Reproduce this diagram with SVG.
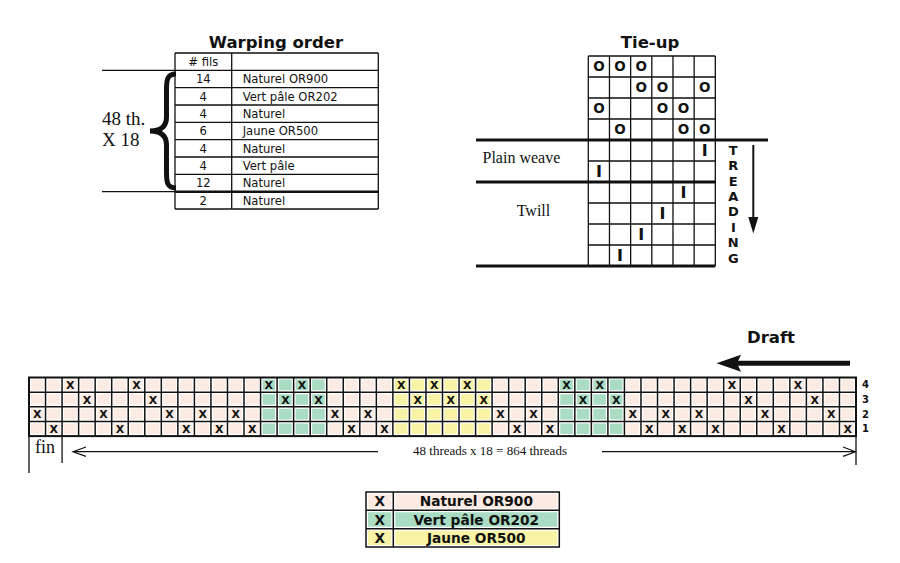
<svg xmlns="http://www.w3.org/2000/svg" width="900" height="563" viewBox="0 0 900 563">
<style>
.sans{font-family:"DejaVu Sans","Liberation Sans",sans-serif;fill:#111}
.serif{font-family:"Liberation Serif","Times New Roman",serif;fill:#111}
.title{font-size:16.5px;font-weight:bold;text-anchor:middle}
.cell{font-size:11.6px}
.mid{text-anchor:middle}
.x{font-family:"DejaVu Sans","Liberation Sans",sans-serif;font-size:11px;font-weight:bold;text-anchor:middle;fill:#111}
.o{font-family:"DejaVu Sans","Liberation Sans",sans-serif;font-size:13.5px;font-weight:bold;text-anchor:middle;fill:#111}
.i{font-family:"DejaVu Sans","Liberation Sans",sans-serif;font-size:16px;font-weight:bold;text-anchor:middle;fill:#111}
.tr{font-family:"DejaVu Sans","Liberation Sans",sans-serif;font-size:13px;font-weight:bold;text-anchor:middle;fill:#111}
.sh{font-family:"DejaVu Sans","Liberation Sans",sans-serif;font-size:10px;font-weight:bold;text-anchor:middle;fill:#111}
.leg{font-family:"DejaVu Sans","Liberation Sans",sans-serif;font-size:13.7px;font-weight:bold;text-anchor:middle;fill:#111}
.thin{stroke:#111;stroke-width:1.3;fill:none}
.thick{stroke:#111;stroke-width:3;fill:none}
.wl{stroke:#fff;stroke-width:4;fill:none}
.bl{stroke:#111;stroke-width:1.5;fill:none}
.ar{stroke:#111;stroke-width:1.2;fill:none}
.nat{fill:#fbebe3}
.grn{fill:#a9dcc3}
.yel{fill:#f8f3a5}
</style>
<rect width="900" height="563" fill="#fff"/>

<g id="warping-order">
<text class="sans title" x="276" y="48">Warping order</text>
<path class="thin" d="M175,53H378.3M175,70.33H378.3M175,87.67H378.3M175,105H378.3M175,122.33H378.3M175,139.67H378.3M175,157H378.3M175,174.33H378.3M175,209H378.3M175,53V209M231.7,53V209M378.3,53V209M102,70.33H175M102,191.67H175"/>
<path d="M175,191.67H378.3" stroke="#111" stroke-width="2.5"/>
<path d="M176,74 C167,74 166.5,80 166.5,90 L166.5,117 C166.5,126 161,131 150,131 C161,131 166.5,136 166.5,145 L166.5,172 C166.5,182 167,188 176,188" fill="none" stroke="#111" stroke-width="5"/>
<text class="serif" x="102" y="124.7" font-size="19">48 th.</text>
<text class="serif" x="102" y="146.3" font-size="19">X 18</text>
<text class="sans cell mid" x="203.3" y="66">#&#160;fils</text>
<text class="sans cell mid" x="203.3" y="83.3">14</text><text class="sans cell" x="242.7" y="83.3">Naturel OR900</text>
<text class="sans cell mid" x="203.3" y="100.6">4</text><text class="sans cell" x="242.7" y="100.6">Vert pâle OR202</text>
<text class="sans cell mid" x="203.3" y="118">4</text><text class="sans cell" x="242.7" y="118">Naturel</text>
<text class="sans cell mid" x="203.3" y="135.3">6</text><text class="sans cell" x="242.7" y="135.3">Jaune OR500</text>
<text class="sans cell mid" x="203.3" y="152.6">4</text><text class="sans cell" x="242.7" y="152.6">Naturel</text>
<text class="sans cell mid" x="203.3" y="170">4</text><text class="sans cell" x="242.7" y="170">Vert pâle</text>
<text class="sans cell mid" x="203.3" y="187.3">12</text><text class="sans cell" x="242.7" y="187.3">Naturel</text>
<text class="sans cell mid" x="203.3" y="204.6">2</text><text class="sans cell" x="242.7" y="204.6">Naturel</text>
</g>

<g id="tie-up">
<text class="sans title" x="650" y="48">Tie-up</text>
<path class="thin" d="M588.3,56V266M609.47,56V266M630.64,56V266M651.81,56V266M672.98,56V266M694.15,56V266M715.32,56V266M588.3,56H715.32M588.3,77H715.32M588.3,98H715.32M588.3,119H715.32M588.3,161H715.32M588.3,203H715.32M588.3,224H715.32M588.3,245H715.32"/>
<path class="thick" d="M476,140H768M476,182H715.32M476,266H715.32"/>
<text class="o" x="598.9" y="71.4">O</text><text class="o" x="620.1" y="71.4">O</text><text class="o" x="641.2" y="71.4">O</text>
<text class="o" x="641.2" y="92.4">O</text><text class="o" x="662.4" y="92.4">O</text><text class="o" x="704.7" y="92.4">O</text>
<text class="o" x="598.9" y="113.4">O</text><text class="o" x="662.4" y="113.4">O</text><text class="o" x="683.6" y="113.4">O</text>
<text class="o" x="620.1" y="134.4">O</text><text class="o" x="683.6" y="134.4">O</text><text class="o" x="704.7" y="134.4">O</text>
<text class="i" x="704.7" y="156.3">I</text>
<text class="i" x="598.9" y="177.3">I</text>
<text class="i" x="683.6" y="198.3">I</text>
<text class="i" x="662.4" y="219.3">I</text>
<text class="i" x="641.2" y="240.3">I</text>
<text class="i" x="620.1" y="261.3">I</text>
<text class="serif" x="482.5" y="162.5" font-size="16">Plain weave</text>
<text class="serif" x="516.7" y="216" font-size="16">Twill</text>
<text class="tr" x="733.3" y="154.7">T</text>
<text class="tr" x="733.3" y="170.1">R</text>
<text class="tr" x="733.3" y="185.5">E</text>
<text class="tr" x="733.3" y="200.9">A</text>
<text class="tr" x="733.3" y="216.3">D</text>
<text class="tr" x="733.3" y="231.7">I</text>
<text class="tr" x="733.3" y="247.1">N</text>
<text class="tr" x="733.3" y="262.5">G</text>
</g>

<g id="draft">
<text class="sans title" x="771" y="343">Draft</text>
<rect class="nat" x="29" y="377.5" width="827" height="58.6"/>
<rect class="grn" x="260.56" y="377.5" width="66.16" height="58.6"/>
<rect class="yel" x="392.88" y="377.5" width="99.24" height="58.6"/>
<rect class="grn" x="558.28" y="377.5" width="66.16" height="58.6"/>
<g id="draft-grid">
<path class="wl" d="M45.54,377.5V436.1M62.08,377.5V436.1M78.62,377.5V436.1M95.16,377.5V436.1M111.7,377.5V436.1M128.24,377.5V436.1M144.78,377.5V436.1M161.32,377.5V436.1M177.86,377.5V436.1M194.4,377.5V436.1M210.94,377.5V436.1M227.48,377.5V436.1M244.02,377.5V436.1M260.56,377.5V436.1M277.1,377.5V436.1M293.64,377.5V436.1M310.18,377.5V436.1M326.72,377.5V436.1M343.26,377.5V436.1M359.8,377.5V436.1M376.34,377.5V436.1M392.88,377.5V436.1M409.42,377.5V436.1M425.96,377.5V436.1M442.5,377.5V436.1M459.04,377.5V436.1M475.58,377.5V436.1M492.12,377.5V436.1M508.66,377.5V436.1M525.2,377.5V436.1M541.74,377.5V436.1M558.28,377.5V436.1M574.82,377.5V436.1M591.36,377.5V436.1M607.9,377.5V436.1M624.44,377.5V436.1M640.98,377.5V436.1M657.52,377.5V436.1M674.06,377.5V436.1M690.6,377.5V436.1M707.14,377.5V436.1M723.68,377.5V436.1M740.22,377.5V436.1M756.76,377.5V436.1M773.3,377.5V436.1M789.84,377.5V436.1M806.38,377.5V436.1M822.92,377.5V436.1M839.46,377.5V436.1M29,392.15H856M29,406.8H856M29,421.45H856M29,377.5H856M29,436.1H856M29,377.5V436.1M856,377.5V436.1"/>
<path class="bl" d="M45.54,377.5V436.1M62.08,377.5V436.1M78.62,377.5V436.1M95.16,377.5V436.1M111.7,377.5V436.1M128.24,377.5V436.1M144.78,377.5V436.1M161.32,377.5V436.1M177.86,377.5V436.1M194.4,377.5V436.1M210.94,377.5V436.1M227.48,377.5V436.1M244.02,377.5V436.1M260.56,377.5V436.1M277.1,377.5V436.1M293.64,377.5V436.1M310.18,377.5V436.1M326.72,377.5V436.1M343.26,377.5V436.1M359.8,377.5V436.1M376.34,377.5V436.1M392.88,377.5V436.1M409.42,377.5V436.1M425.96,377.5V436.1M442.5,377.5V436.1M459.04,377.5V436.1M475.58,377.5V436.1M492.12,377.5V436.1M508.66,377.5V436.1M525.2,377.5V436.1M541.74,377.5V436.1M558.28,377.5V436.1M574.82,377.5V436.1M591.36,377.5V436.1M607.9,377.5V436.1M624.44,377.5V436.1M640.98,377.5V436.1M657.52,377.5V436.1M674.06,377.5V436.1M690.6,377.5V436.1M707.14,377.5V436.1M723.68,377.5V436.1M740.22,377.5V436.1M756.76,377.5V436.1M773.3,377.5V436.1M789.84,377.5V436.1M806.38,377.5V436.1M822.92,377.5V436.1M839.46,377.5V436.1M29,392.15H856M29,406.8H856M29,421.45H856"/>
<rect x="29" y="377.5" width="827" height="58.6" fill="none" stroke="#111" stroke-width="2"/>
</g>
<g id="draft-x">
<text class="x" x="70.35" y="388.8">X</text><text class="x" x="136.51" y="388.8">X</text><text class="x" x="268.83" y="388.8">X</text><text class="x" x="301.91" y="388.8">X</text><text class="x" x="401.15" y="388.8">X</text><text class="x" x="434.23" y="388.8">X</text><text class="x" x="467.31" y="388.8">X</text><text class="x" x="566.55" y="388.8">X</text><text class="x" x="599.63" y="388.8">X</text><text class="x" x="731.95" y="388.8">X</text><text class="x" x="798.11" y="388.8">X</text>
<text class="x" x="86.89" y="403.5">X</text><text class="x" x="153.05" y="403.5">X</text><text class="x" x="285.37" y="403.5">X</text><text class="x" x="318.45" y="403.5">X</text><text class="x" x="417.69" y="403.5">X</text><text class="x" x="450.77" y="403.5">X</text><text class="x" x="483.85" y="403.5">X</text><text class="x" x="583.09" y="403.5">X</text><text class="x" x="616.17" y="403.5">X</text><text class="x" x="748.49" y="403.5">X</text><text class="x" x="814.65" y="403.5">X</text>
<text class="x" x="37.27" y="418.1">X</text><text class="x" x="103.43" y="418.1">X</text><text class="x" x="169.59" y="418.1">X</text><text class="x" x="202.67" y="418.1">X</text><text class="x" x="235.75" y="418.1">X</text><text class="x" x="334.99" y="418.1">X</text><text class="x" x="368.07" y="418.1">X</text><text class="x" x="500.39" y="418.1">X</text><text class="x" x="533.47" y="418.1">X</text><text class="x" x="632.71" y="418.1">X</text><text class="x" x="665.79" y="418.1">X</text><text class="x" x="698.87" y="418.1">X</text><text class="x" x="765.03" y="418.1">X</text><text class="x" x="831.19" y="418.1">X</text>
<text class="x" x="53.81" y="432.8">X</text><text class="x" x="119.97" y="432.8">X</text><text class="x" x="186.13" y="432.8">X</text><text class="x" x="219.21" y="432.8">X</text><text class="x" x="252.29" y="432.8">X</text><text class="x" x="351.53" y="432.8">X</text><text class="x" x="384.61" y="432.8">X</text><text class="x" x="516.93" y="432.8">X</text><text class="x" x="550.01" y="432.8">X</text><text class="x" x="649.25" y="432.8">X</text><text class="x" x="682.33" y="432.8">X</text><text class="x" x="715.41" y="432.8">X</text><text class="x" x="781.57" y="432.8">X</text><text class="x" x="847.73" y="432.8">X</text>
</g>
<text class="sh" x="865.5" y="388.4">4</text>
<text class="sh" x="865.5" y="403.1">3</text>
<text class="sh" x="865.5" y="417.7">2</text>
<text class="sh" x="865.5" y="432.4">1</text>
<path class="thin" d="M29,436.1V473M62.08,436.1V463M856,436.1V465"/>
<text class="serif" x="35" y="453.3" font-size="18">fin</text>
<text class="serif mid" x="490" y="454.5" font-size="13">48 threads x 18 = 864 threads</text>
</g>

<g id="connectors">
<path class="ar" d="M73,451.7H378M86,447 L73,451.7 L86,456.4"/>
<path class="ar" d="M602,451.7H855M843,447 L855.5,451.7 L843,456.4"/>
<path d="M850,363.3H736" fill="none" stroke="#111" stroke-width="5"/>
<polygon points="716.5,363.3 741,354.8 737,363.3 741,371.8" fill="#111"/>
<path d="M753.3,145V221" fill="none" stroke="#111" stroke-width="2"/>
<polygon points="753.3,233.5 748.3,217 758.3,217" fill="#111"/>
</g>

<g id="legend">
<rect class="nat" x="366" y="492" width="193.3" height="18.3"/>
<rect class="grn" x="366" y="510.3" width="193.3" height="18.4"/>
<rect class="yel" x="366" y="528.7" width="193.3" height="18.3"/>
<path class="wl" d="M366,510.3H559.3M366,528.7H559.3M393.3,492V547M366,492H559.3M366,547H559.3M366,492V547M559.3,492V547"/>
<path class="bl" d="M366,510.3H559.3M366,528.7H559.3M393.3,492V547"/>
<rect x="366" y="492" width="193.3" height="55" fill="none" stroke="#111" stroke-width="1.5"/>
<text class="leg" x="379.7" y="506.2">X</text><text class="leg" x="476.3" y="506.2">Naturel OR900</text>
<text class="leg" x="379.7" y="524.5">X</text><text class="leg" x="476.3" y="524.5">Vert pâle OR202</text>
<text class="leg" x="379.7" y="542.9">X</text><text class="leg" x="476.3" y="542.9">Jaune OR500</text>
</g>
</svg>
